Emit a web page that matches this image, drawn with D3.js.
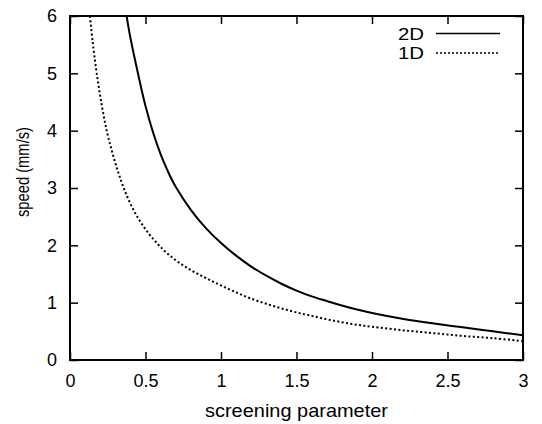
<!DOCTYPE html>
<html>
<head>
<meta charset="utf-8">
<script src="https://cdn.jsdelivr.net/npm/d3@7"></script>
<style>
    body { margin: 0; background: #fff; }
    svg { display: block; }
    text { font-family: "Liberation Sans", Arial, sans-serif; fill: #000; }
</style>
</head>
<body>
<svg id="chart" width="542" height="424"></svg>
<script>
    'use strict';

    // 2D curve
    var x2D = [0.375, 0.4, 0.45, 0.5, 0.55, 0.6, 0.65, 0.7, 0.8, 0.9, 1.0, 1.1, 1.2, 1.3, 1.4, 1.5, 1.6, 1.7, 1.8, 1.9, 2.0, 2.2, 2.4, 2.6, 2.8, 3.0];
    var y2D = [6.0, 5.62, 5.0, 4.43, 3.97, 3.59, 3.28, 3.02, 2.62, 2.30, 2.04, 1.82, 1.63, 1.47, 1.33, 1.21, 1.11, 1.03, 0.95, 0.88, 0.82, 0.72, 0.64, 0.57, 0.50, 0.43];

    // 1D curve
    var x1D = [0.132, 0.15, 0.177, 0.21, 0.243, 0.28, 0.32, 0.36, 0.42, 0.5, 0.6, 0.7, 0.8, 0.9, 1.0, 1.1, 1.2, 1.3, 1.4, 1.5, 1.6, 1.7, 1.8, 1.9, 2.0, 2.2, 2.4, 2.6, 2.8, 3.0];
    var y1D = [6.0, 5.55, 5.0, 4.45, 4.0, 3.62, 3.27, 2.97, 2.62, 2.28, 1.97, 1.74, 1.57, 1.43, 1.30, 1.18, 1.07, 0.98, 0.90, 0.83, 0.77, 0.71, 0.66, 0.615, 0.58, 0.52, 0.47, 0.42, 0.38, 0.33];

    var xTicks = [0, 0.5, 1, 1.5, 2, 2.5, 3];
    var yTicks = [0, 1, 2, 3, 4, 5, 6];

    (function() {
        var series = [
            { name: '2D', xs: x2D, ys: y2D, dash: null },
            { name: '1D', xs: x1D, ys: y1D, dash: '2,2.4' }
        ];

        var svg = d3.select('#chart');
        var m = { left: 70, right: 523, top: 16, bottom: 360 };
        var tickLen = 8;

        var x = d3.scaleLinear().domain([0, 3]).range([m.left, m.right]);
        var y = d3.scaleLinear().domain([0, 6]).range([m.bottom, m.top]);

        svg.append('clipPath').attr('id', 'clip')
            .append('rect')
            .attr('x', m.left).attr('y', m.top)
            .attr('width', m.right - m.left).attr('height', m.bottom - m.top);

        var line = d3.line()
            .x(function(d) { return x(d[0]); })
            .y(function(d) { return y(d[1]); })
            .curve(d3.curveCatmullRom.alpha(0.5));

        svg.append('g')
            .attr('clip-path', 'url(#clip)')
            .selectAll('path')
            .data(series)
            .enter().append('path')
            .attr('d', function(s) { return line(d3.zip(s.xs, s.ys)); })
            .attr('fill', 'none')
            .attr('stroke', '#000')
            .attr('stroke-width', 2)
            .attr('stroke-dasharray', function(s) { return s.dash; });

        // inward ticks, mirrored on all four sides
        var axes = svg.append('g');
        axes.append('g')
            .attr('transform', 'translate(0,' + m.bottom + ')')
            .call(d3.axisBottom(x).tickValues(xTicks).tickSize(-tickLen).tickPadding(14).tickFormat(d3.format('')));
        axes.append('g')
            .attr('transform', 'translate(0,' + m.top + ')')
            .call(d3.axisTop(x).tickValues(xTicks).tickSize(-tickLen).tickFormat(''));
        axes.append('g')
            .attr('transform', 'translate(' + m.left + ',0)')
            .call(d3.axisLeft(y).tickValues(yTicks).tickSize(-tickLen).tickPadding(13).tickFormat(d3.format('d')));
        axes.append('g')
            .attr('transform', 'translate(' + m.right + ',0)')
            .call(d3.axisRight(y).tickValues(yTicks).tickSize(-tickLen).tickFormat(''));

        axes.selectAll('.domain').remove();
        axes.selectAll('.tick line').attr('stroke', '#000').attr('stroke-width', 1.5);
        axes.selectAll('.tick text')
            .style('font-family', '"Liberation Sans", Arial, sans-serif')
            .style('font-size', '18px')
            .attr('fill', '#000');

        svg.append('rect')
            .attr('x', m.left).attr('y', m.top)
            .attr('width', m.right - m.left).attr('height', m.bottom - m.top)
            .attr('fill', 'none')
            .attr('stroke', '#000')
            .attr('stroke-width', 2);

        svg.append('text')
            .attr('x', (m.left + m.right) / 2)
            .attr('y', 417)
            .attr('text-anchor', 'middle')
            .style('font-size', '19px')
            .attr('textLength', 183)
            .attr('lengthAdjust', 'spacingAndGlyphs')
            .text('screening parameter');

        // gnuplot squeezes the rotated label a bit
        svg.append('text')
            .attr('transform', 'translate(29,172) rotate(-90)')
            .attr('text-anchor', 'middle')
            .style('font-size', '18px')
            .attr('textLength', 90)
            .attr('lengthAdjust', 'spacingAndGlyphs')
            .text('speed (mm/s)');

        // legend
        var legend = svg.append('g')
            .selectAll('g')
            .data(series)
            .enter().append('g')
            .attr('transform', function(d, i) { return 'translate(0,' + (33.5 + i * 19.5) + ')'; });

        legend.append('text')
            .attr('x', 424)
            .attr('y', 6)
            .attr('text-anchor', 'end')
            .style('font-size', '16px')
            .attr('textLength', 26)
            .attr('lengthAdjust', 'spacingAndGlyphs')
            .text(function(d) { return d.name; });

        legend.append('line')
            .attr('x1', 436).attr('x2', 500)
            .attr('stroke', '#000')
            .attr('stroke-width', function(d) { return d.dash ? 1.3 : 1.5; })
            .attr('stroke-dasharray', function(d) { return d.dash ? '2,2' : null; });
    }());
</script>
</body>
</html>
